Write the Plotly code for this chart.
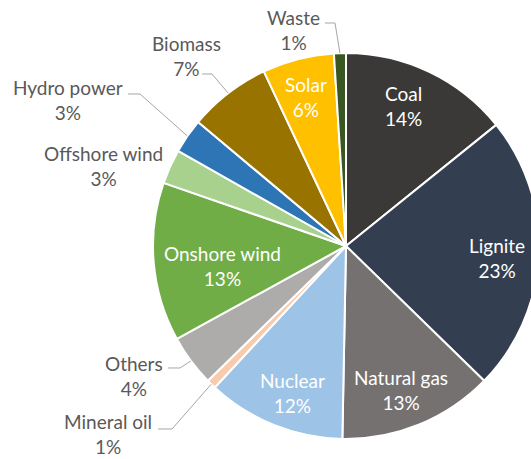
import math
import plotly.graph_objects as go

# Gross electricity generation by source (share in %)
sources = ["Coal", "Lignite", "Natural gas", "Nuclear", "Mineral oil", "Others",
           "Onshore wind", "Offshore wind", "Hydro power", "Biomass", "Solar", "Waste"]
shares = [14.2, 23.1, 13.0, 11.6, 0.8, 4.3, 13.3, 2.9, 2.9, 6.9, 6.0, 1.0]
colors = ["#3B3838", "#333F50", "#767171", "#9DC3E6", "#F8CBAD", "#AEABAB",
          "#70AD47", "#A9D18E", "#2E75B6", "#997300", "#FFC000", "#385723"]

W, H = 545, 459
CX, CY, R = 346, 246, 193  # pie centre and radius, px

# label placement (px): centre of the two-line label, inside/outside, leader elbow
label_pos = {
    "Coal": (403, 106, True, None),
    "Lignite": (497, 258, True, None),
    "Natural gas": (401, 390, True, None),
    "Nuclear": (292, 393, True, None),
    "Onshore wind": (222, 266, True, None),
    "Solar": (306, 97, True, None),
    "Waste": (293, 30, False, [(325, 23), (335, 23)]),
    "Biomass": (186, 56, False, [(202, 74), (212, 74)]),
    "Hydro power": (68, 100, False, [(128, 94), (140, 94)]),
    "Offshore wind": (103, 166, False, None),
    "Others": (134, 376, False, [(168, 368), (180, 368)]),
    "Mineral oil": (108, 434, False, [(158, 429), (172, 429)]),
}


def px_to_paper(x, y):
    return x / W, 1 - y / H


fig = go.Figure(go.Pie(
    labels=sources,
    values=shares,
    sort=False,
    direction="clockwise",
    rotation=0,
    marker=dict(colors=colors, line=dict(color="white", width=2)),
    textinfo="none",
    hoverinfo="label+percent",
    showlegend=False,
    domain=dict(x=[(CX - R) / W, (CX + R) / W],
                y=[1 - (CY + R) / H, 1 - (CY - R) / H]),
))

total = sum(shares)
annotations = []
shapes = []
cum = 0.0
for name, val in zip(sources, shares):
    mid = (cum + val / 2) / total * 2 * math.pi
    cum += val
    x, y, inside, elbow = label_pos[name]
    pct = round(val / total * 100)
    px, py = px_to_paper(x, y)
    annotations.append(dict(
        x=px, y=py, xref="paper", yref="paper", showarrow=False,
        xanchor="center", yanchor="middle",
        text=f"{name}<br>{pct}%",
        font=dict(family="Lato", size=19,
                  color="#FFFFFF" if inside else "#595959"),
    ))
    if elbow:
        ex = CX + R * math.sin(mid)
        ey = CY - R * math.cos(mid)
        pts = [px_to_paper(a, b) for a, b in elbow + [(ex, ey)]]
        path = "M " + " L ".join(f"{a:.5f},{b:.5f}" for a, b in pts)
        shapes.append(dict(type="path", xref="paper", yref="paper", path=path,
                           line=dict(color="#A6A6A6", width=1)))

fig.update_layout(
    width=W, height=H,
    margin=dict(l=0, r=0, t=0, b=0),
    paper_bgcolor="white",
    plot_bgcolor="white",
    annotations=annotations,
    shapes=shapes,
)

fig.write_html(
    "out.html",
    post_script="document.documentElement.style.overflow='hidden';"
                "document.body.style.overflow='hidden';",
)
